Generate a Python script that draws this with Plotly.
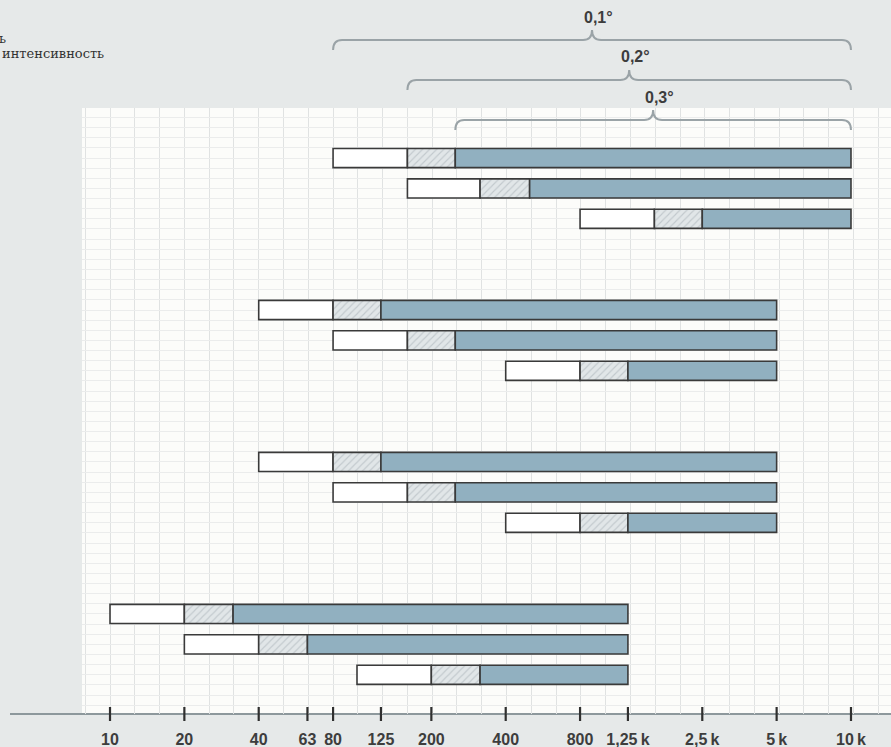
import math
import plotly.graph_objects as go

# ---------------- data ----------------
rows = ["A1", "A2", "A3", "B1", "B2", "B3", "C1", "C2", "C3", "D1", "D2", "D3"]
row_pos = [0, 1, 2, 5, 6, 7, 10, 11, 12, 15, 16, 17]
white_start = [80, 160, 800, 40, 80, 400, 40, 80, 400, 10, 20, 100]
white_end = [160, 315, 1600, 80, 160, 800, 80, 160, 800, 20, 40, 200]
hatch_end = [250, 500, 2500, 125, 250, 1250, 125, 250, 1250, 31.5, 63, 315]
bar_end = [10000, 10000, 10000, 5000, 5000, 5000, 5000, 5000, 5000, 1250, 1250, 1250]

tick_vals = [10, 20, 40, 63, 80, 125, 200, 400, 800, 1250, 2500, 5000, 10000]
tick_text = ["10", "20", "40", "63", "80", "125", "200", "400", "800",
             "1,25\u2009k", "2,5\u2009k", "5\u2009k", "10\u2009k"]

brace_start = [80, 160, 250]
brace_end = [10000, 10000, 10000]
brace_labels = ["0,1°", "0,2°", "0,3°"]

# ---------------- layout constants ----------------
W, H = 891, 747
L, R, T, B = 82, 0, 108, 33
PW, PH = W - L - R, H - T - B
XR = [0.8866, 4.162]          # log10 range
YR = [18.29, -1.645]          # reversed
BG = "#e6e9e9"

def xpaper(f):
    return (math.log10(f) - XR[0]) / (XR[1] - XR[0])

def ypaper(py):
    return (H - B - py) / PH

outline = dict(color="#3a3a3a", width=1.6)
BW = 0.63

fig = go.Figure()
fig.add_trace(go.Bar(
    y=row_pos, base=white_start,
    x=[e - s for s, e in zip(white_start, white_end)],
    orientation="h", width=BW,
    marker=dict(color="#ffffff", line=outline), hoverinfo="skip", showlegend=False))
fig.add_trace(go.Bar(
    y=row_pos, base=white_end,
    x=[e - s for s, e in zip(white_end, hatch_end)],
    orientation="h", width=BW,
    marker=dict(color="#e1e6e8", line=outline,
                pattern=dict(shape="/", fgcolor="#a3acb1", bgcolor="#e1e6e8",
                             size=5, solidity=0.22)),
    hoverinfo="skip", showlegend=False))
fig.add_trace(go.Bar(
    y=row_pos, base=hatch_end,
    x=[e - s for s, e in zip(hatch_end, bar_end)],
    orientation="h", width=BW,
    marker=dict(color="#91b0c0", line=outline), hoverinfo="skip", showlegend=False))

# tick marks crossing the axis line
fig.add_trace(go.Scatter(
    x=tick_vals, y=[YR[0]] * len(tick_vals), mode="markers",
    marker=dict(symbol="line-ns", size=10, line=dict(color="#2f2f2f", width=2.2)),
    cliponaxis=False, hoverinfo="skip", showlegend=False))

shapes = []
# axis line
shapes.append(dict(type="line", xref="paper", yref="paper",
                   x0=(10 - L) / PW, x1=1, y0=0, y1=0,
                   line=dict(color="#8d989c", width=2), layer="below"))

# braces
brace_y = [40, 80, 120]
annotations = []
for s, e, lab, yl in zip(brace_start, brace_end, brace_labels, brace_y):
    x0, x1 = xpaper(s), xpaper(e)
    xm = (x0 + x1) / 2
    rx = 9 / PW
    y_line = ypaper(yl)
    y_end = ypaper(yl + 10)
    y_tip = ypaper(yl - 10)
    path = (f"M {x0},{y_end} Q {x0},{y_line} {x0 + rx},{y_line} "
            f"L {xm - rx},{y_line} Q {xm},{y_line} {xm},{y_tip} "
            f"Q {xm},{y_line} {xm + rx},{y_line} "
            f"L {x1 - rx},{y_line} Q {x1},{y_line} {x1},{y_end}")
    shapes.append(dict(type="path", xref="paper", yref="paper", path=path,
                       line=dict(color="#9aa3a7", width=2), layer="above"))
    annotations.append(dict(xref="paper", yref="paper", x=xm, y=ypaper(yl - 23),
                            text=lab, showarrow=False, xanchor="center",
                            yanchor="middle", xshift=6,
                            font=dict(family="Liberation Sans", size=16,
                                      color="#3d3d3d", weight="bold")))

# top-left (cut-off) text
annotations.append(dict(xref="paper", yref="paper", x=(8 - L) / PW, y=ypaper(38),
                        text="ь", showarrow=False, xanchor="right", yanchor="middle",
                        font=dict(family="DejaVu Serif", size=13, color="#333333")))
annotations.append(dict(xref="paper", yref="paper", x=(106 - L) / PW, y=ypaper(53),
                        text="интенсивность", showarrow=False, xanchor="right",
                        yanchor="middle",
                        font=dict(family="DejaVu Serif", size=13, color="#333333")))

fig.update_layout(
    width=W, height=H,
    margin=dict(l=L, r=R, t=T, b=B, pad=0),
    paper_bgcolor=BG,
    plot_bgcolor="#fcfcfa",
    barmode="overlay",
    shapes=shapes,
    annotations=annotations,
    xaxis=dict(type="log", range=XR, tickvals=tick_vals, ticktext=tick_text,
               ticks="", showline=False, zeroline=False, showgrid=False,
               minor=dict(dtick=math.log10(2) / 3, tick0=1, showgrid=True,
                          gridcolor="#e0e2e2", gridwidth=1, ticks=""),
               ticklabelstandoff=14,
               tickfont=dict(family="Liberation Sans", size=16, color="#3d3d3d",
                             weight="bold")),
    yaxis=dict(range=YR, tick0=0, dtick=1 / 3, showticklabels=False, ticks="",
               showgrid=True, gridcolor="#ebecec", gridwidth=1, zeroline=False,
               showline=False),
)

fig.write_html(
    "out.html",
    config={"displayModeBar": False},
    post_script=("document.body.style.margin='0';"
                 "document.body.style.overflow='hidden';"
                 f"document.body.style.background='{BG}';"),
)
